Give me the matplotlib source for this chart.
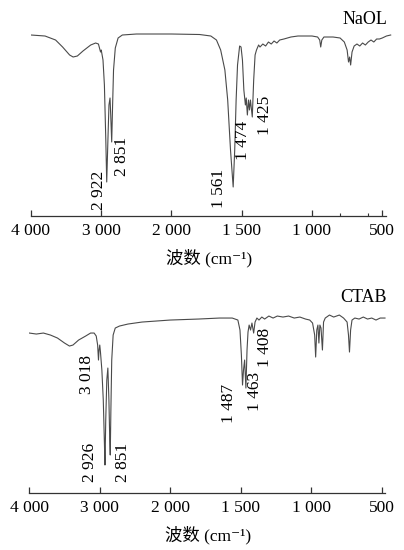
"""
FTIR spectra of NaOL and CTAB — two stacked panels with a split wavenumber axis
(half-scale above 2 000 cm-1, as on the instrument printout).
"""

import numpy as np
import matplotlib

matplotlib.use("Agg")
import matplotlib.pyplot as plt
from matplotlib.ticker import FixedLocator

plt.rcParams.update({
    "font.family": ["Liberation Serif", "Noto Sans CJK SC", "DejaVu Serif"],
    "font.size": 12.5,
    "axes.linewidth": 0.9,
})

# ── Data (transmittance, arbitrary units) ─────────────────────────────────────

naol_wn = [4000, 3800, 3650, 3550, 3450, 3400, 3340, 3260, 3150, 3080, 3040, 3010, 3000,
           2975, 2955, 2935, 2922, 2905, 2890, 2875, 2865, 2851, 2840, 2825, 2800, 2760,
           2700, 2500, 2200, 2000, 1800, 1720, 1680, 1650, 1620, 1600, 1580, 1561, 1550,
           1540, 1530, 1515, 1505, 1495, 1485, 1474, 1468, 1460, 1452, 1445, 1438, 1425,
           1415, 1405, 1395, 1380, 1370, 1350, 1330, 1310, 1290, 1270, 1250, 1230, 1200,
           1150, 1100, 1050, 1000, 960, 945, 938, 930, 915, 850, 800, 770, 750, 740, 732,
           725, 715, 700, 680, 660, 640, 620, 600, 580, 560, 540, 520, 500, 470, 440]
naol_t = [181, 180, 176, 169, 161, 159, 160, 165, 171, 173, 172, 164, 166,
          156, 131, 76, 34, 76, 111, 118, 101, 74, 106, 146, 168, 178,
          181, 182, 182, 182, 181.5, 180, 176, 166, 146, 116, 66, 29, 66,
          116, 151, 170, 169, 156, 126, 111, 118, 101, 116, 106, 116, 99,
          136, 161, 166, 171, 169, 172, 170, 174, 172, 175, 173, 176, 177,
          179, 180, 180, 180, 179, 176, 169, 176, 179, 179, 178, 174, 166, 154, 159,
          151, 164, 170, 172, 170, 173, 171, 174, 176, 174, 177, 177, 178, 180, 181]

ctab_wn = [4000, 3900, 3800, 3700, 3600, 3500, 3430, 3380, 3300, 3200, 3130, 3080, 3050,
           3030, 3018, 3010, 3000, 2990, 2970, 2950, 2935, 2926, 2915, 2900, 2885, 2870,
           2858, 2851, 2842, 2830, 2810, 2780, 2720, 2600, 2400, 2200, 2000, 1800, 1650,
           1560, 1520, 1505, 1495, 1487, 1480, 1472, 1463, 1455, 1448, 1440, 1430, 1420,
           1408, 1398, 1385, 1370, 1350, 1330, 1300, 1270, 1240, 1200, 1160, 1120, 1080,
           1040, 1010, 990, 975, 968, 960, 952, 945, 938, 930, 920, 912, 900, 870, 840,
           800, 770, 745, 735, 728, 720, 710, 690, 660, 630, 600, 570, 540, 510, 476]
ctab_t = [160, 159, 160, 158, 155, 150, 147, 148, 153, 157, 160, 160, 157,
          148, 133, 143, 148, 141, 123, 93, 53, 28, 73, 113, 125, 93,
          53, 38, 83, 133, 158, 165, 167, 169, 171, 172, 173, 174, 175,
          175, 173, 163, 138, 108, 123, 133, 105, 143, 161, 168, 163, 170,
          160, 171, 175, 173, 176, 174, 177, 175, 177, 176, 177, 175, 176,
          174, 173, 170, 158, 136, 163, 168, 150, 168, 165, 143, 171, 175, 178, 176,
          178, 175, 171, 158, 141, 163, 173, 175, 174, 176, 174, 175, 173, 175, 175]

naol_peaks = [2922, 2851, 1561, 1474, 1425]
ctab_peaks = [3018, 2926, 2851, 1487, 1463, 1408]
peak_text = {w: f"{w // 1000} {w % 1000:03d}" for w in naol_peaks + ctab_peaks}

tick_values = [4000, 3000, 2000, 1500, 1000, 500]
tick_labels = ["4 000", "3 000", "2 000", "1 500", "1 000", "500"]

# label placement: (pixel offset from the peak, height in data units)
naol_label_pos = [(-8, 26), (10, 60), (-14, 28), (-2, 76), (13, 101)]
ctab_label_pos = [(-11, 119), (-15, 31), (13, 31), (-14, 90), (9, 102), (11, 146)]


# ── Split wavenumber scale: 1 000 cm-1 above 2 000 takes the room of 500 below ──

def _fwd(x):
    x = np.asarray(x, dtype=float)
    return np.where(x > 2000, 1000 + x / 2, x)


def _inv(t):
    t = np.asarray(t, dtype=float)
    return np.where(t > 2000, (t - 1000) * 2, t)


def draw_panel(ax, wn, t, name, peaks, label_pos, title_y, minor=None):
    ax.set_xscale("function", functions=(_fwd, _inv))
    ax.plot(wn, t, color="#4a4a4a", linewidth=0.8)
    ax.set_xlim(4000, 430)
    ax.set_ylim(0, 206)

    for side in ["left", "top", "right"]:
        ax.spines[side].set_visible(False)
    ax.spines["bottom"].set_bounds(4000, 475)
    ax.spines["bottom"].set_color("#333333")
    ax.set_yticks([])

    ax.xaxis.set_major_locator(FixedLocator(tick_values))
    ax.set_xticklabels(tick_labels)
    ax.tick_params(axis="x", which="major", direction="in", length=4, width=0.9,
                   color="#333333", pad=5, labelsize=12.5)
    if minor:
        ax.xaxis.set_minor_locator(FixedLocator(minor))
        ax.tick_params(axis="x", which="minor", direction="in", length=2.5, width=0.8,
                       color="#333333")
    else:
        ax.xaxis.set_minor_locator(FixedLocator([]))

    ax.set_xlabel("波数 (cm⁻¹)", fontsize=12.5)
    ax.xaxis.label.set_va("center")
    ax.xaxis.set_label_coords(0.493, -0.205)

    for w, (dx, y) in zip(peaks, label_pos):
        ax.annotate(peak_text[w], xy=(w, y), xytext=(dx, 0), textcoords="offset pixels",
                    rotation=90, ha="center", va="center", fontsize=12.5)

    ax.text(0.988, title_y, name, transform=ax.transAxes, ha="right", va="center",
            fontsize=13)


fig = plt.figure(figsize=(4.04, 5.5), dpi=100)
ax_top = fig.add_axes([0.0767, 0.6073, 0.8938, 0.3745])
ax_bot = fig.add_axes([0.0725, 0.1036, 0.8965, 0.3745])

draw_panel(ax_top, naol_wn, naol_t, "NaOL", naol_peaks, naol_label_pos, 0.956, minor=[800, 600])
draw_panel(ax_bot, ctab_wn, ctab_t, "CTAB", ctab_peaks, ctab_label_pos, 0.947)

fig.savefig("out.png", dpi=100)
plt.close(fig)
